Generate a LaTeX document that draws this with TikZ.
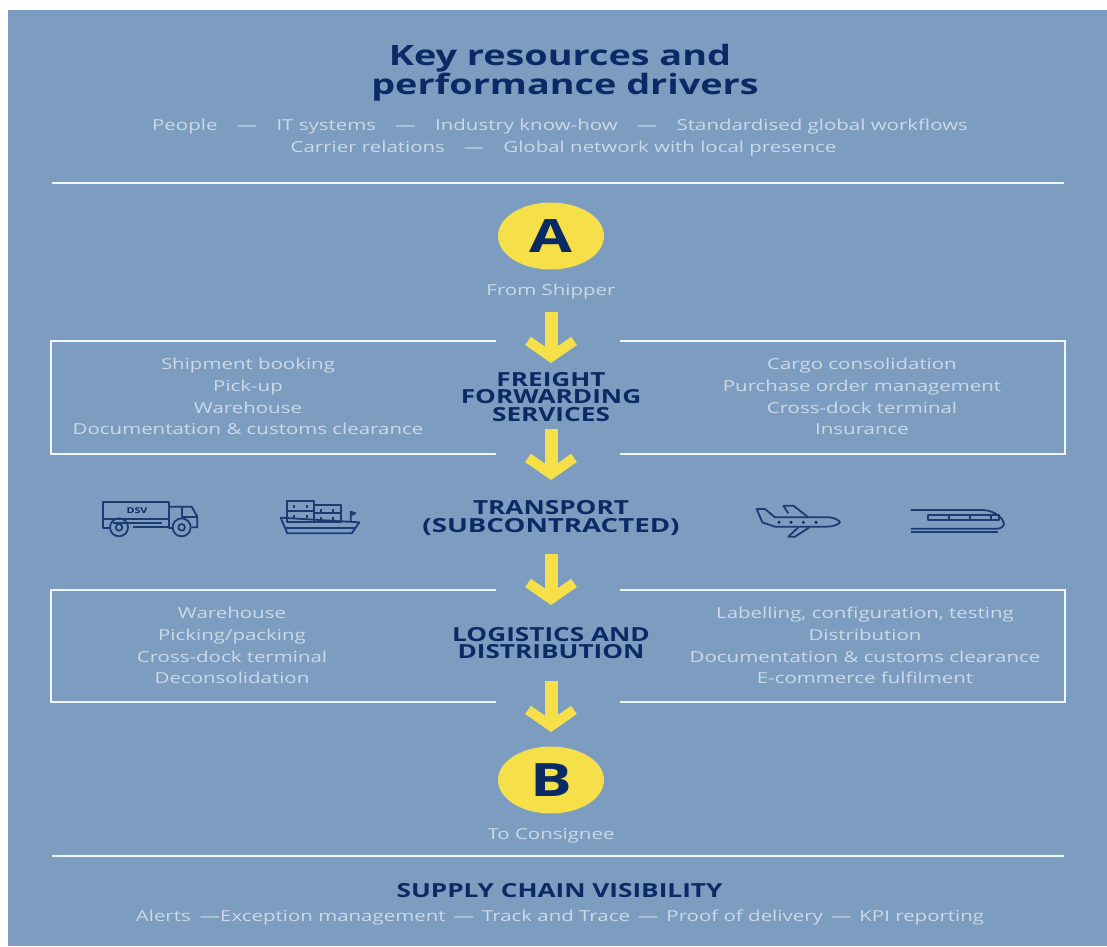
\documentclass[tikz,border=0pt]{standalone}
\usepackage{fontspec}
\setmainfont[FakeStretch=1.35]{Open Sans}
\usetikzlibrary{arrows.meta,shapes.geometric}
\definecolor{bgblue}{HTML}{7C9DC0}
\definecolor{navy}{HTML}{0A2A66}
\definecolor{sun}{HTML}{F5E04A}
\definecolor{pale}{HTML}{CBD9E8}
\newcommand{\gapdash}[1]{\hspace{#1}—\hspace{#1}}
\tikzset{
  body/.style={text=pale,font=\fontsize{15.15}{21.7}\selectfont,align=center,inner sep=0pt},
  head/.style={text=navy,font=\fontsize{19.4}{17.7}\bfseries\selectfont,align=center,inner sep=0pt},
  rule/.style={draw=white!90!bgblue,line width=1.5pt},
  disc/.style={ellipse,fill=sun,minimum width=106pt,minimum height=67pt,inner sep=0pt,text=navy,font=\fontsize{46}{46}\bfseries\selectfont},
  flow/.style={draw=sun,line width=13pt,-{Straight Barb[length=16pt,width=46pt,line width=10pt]}},
  icon/.style={draw=navy!85!bgblue,line width=1.8pt,line join=round,xscale=1/3,yscale=1/3},
}
\begin{document}
\begin{tikzpicture}[x=1pt,y=-1pt]
\useasboundingbox (0,0) rectangle (1107,946);
\fill[white] (0,0) rectangle (1107,946);
\fill[bgblue] (8,10) rectangle (1107,946);
\node[text=navy,font=\fontsize{28}{28.5}\bfseries\selectfont,align=center,inner sep=0pt] (title) at (560,72.5) {Key resources and\\\hspace*{10pt}performance drivers};
\node[body] (res1) at (560,127) {People\gapdash{19.3pt}IT systems\gapdash{19.3pt}Industry know-how\gapdash{19.3pt}Standardised global workflows};
\node[body] (res2) at (563.5,149) {Carrier relations\gapdash{19pt}Global network with local presence};
\coordinate (r1l) at (52,183); \coordinate (r1r) at (1064,183);
\draw[rule] (r1l) -- (r1r);
\node[disc] (A) at (551,236) {A};
\node[body] (ship) at (551,291.5) {From Shipper};
% boxes
\coordinate (b1a) at (496,341); \coordinate (b1b) at (51,341); \coordinate (b1c) at (51,454); \coordinate (b1d) at (496,454);
\coordinate (b2a) at (620,341); \coordinate (b2b) at (1065,341); \coordinate (b2c) at (1065,454); \coordinate (b2d) at (620,454);
\draw[rule] (b1a) -- (b1b) -- (b1c) -- (b1d);
\draw[rule] (b2a) -- (b2b) -- (b2c) -- (b2d);
\coordinate (b3a) at (496,590); \coordinate (b3b) at (51,590); \coordinate (b3c) at (51,702); \coordinate (b3d) at (496,702);
\coordinate (b4a) at (620,590); \coordinate (b4b) at (1065,590); \coordinate (b4c) at (1065,702); \coordinate (b4d) at (620,702);
\draw[rule] (b3a) -- (b3b) -- (b3c) -- (b3d);
\draw[rule] (b4a) -- (b4b) -- (b4c) -- (b4d);
\node[head] (ffs) at (551,397) {FREIGHT\\FORWARDING\\SERVICES};
\node[body] (l1) at (248,396.5) {Shipment booking\\Pick-up\\Warehouse\\Documentation \& customs clearance};
\node[body] (r1) at (862,396.5) {Cargo consolidation\\Purchase order management\\Cross-dock terminal\\Insurance};
\node[head] (trans) at (551,518) {TRANSPORT\\\scalebox{1.055}[1]{(SUBCONTRACTED)}};
\node[head] (log) at (551,643) {LOGISTICS AND\\DISTRIBUTION};
\node[body] (l2) at (232,645.5) {Warehouse\\Picking/packing\\Cross-dock terminal\\Deconsolidation};
\node[body] (r2) at (865,645.5) {Labelling, configuration, testing\\Distribution\\Documentation \& customs clearance\\E-commerce fulfilment};
\node[disc] (B) at (551,780) {B};
\node[body] (cons) at (551,835.5) {To Consignee};
\coordinate (r2l) at (52,856); \coordinate (r2r) at (1064,856);
\draw[rule] (r2l) -- (r2r);
\node[head] (scv) at (559.5,891) {SUPPLY CHAIN VISIBILITY};
\node[body] (scvl) at (560,918) {Alerts\hspace{9pt}—Exception management\gapdash{8pt}Track and Trace\gapdash{8pt}Proof of delivery\gapdash{8pt}KPI reporting};
% flow arrows
\coordinate (f1a) at (551,312); \coordinate (f1b) at (551,363);
\coordinate (f2a) at (551,429); \coordinate (f2b) at (551,480);
\coordinate (f3a) at (551,554); \coordinate (f3b) at (551,605);
\coordinate (f4a) at (551,681); \coordinate (f4b) at (551,732);
\draw[flow] (f1a) -- (f1b);
\draw[flow] (f2a) -- (f2b);
\draw[flow] (f3a) -- (f3b);
\draw[flow] (f4a) -- (f4b);
% truck
\begin{scope}[shift={(80,480)},icon]
\draw (88,145) -- (70,145) -- (70,65) -- (268,65) -- (268,145) -- (278,145);
\draw (268,80) -- (335,80) -- (352,110) -- (352,142) -- (335,142);
\draw (305,82) -- (305,110) -- (350,110);
\draw (70,118) -- (268,118);
\draw (100,128) -- (245,128);
\draw (160,142) -- (268,142);
\draw (117,142) circle (27);
\draw (117,142) circle (10);
\draw (305,142) circle (27);
\draw (305,142) circle (10);
\end{scope}
\node[text=navy,font=\fontsize{8}{8}\bfseries\selectfont,inner sep=0pt] (dsv) at (137,511) {DSV};
% ship
\begin{scope}[shift={(80,480)},icon]
\draw (602,113) -- (838,127) -- (815,160) -- (622,160) -- cycle;
\draw (615,145) -- (825,145);
\draw (622,62) rectangle (702,125);
\draw (622,92) -- (702,92);
\draw (702,75) rectangle (782,125);
\draw (702,100) -- (782,100);
\draw (642,75) -- (642,83) (680,75) -- (680,83) (642,105) -- (642,113) (680,105) -- (680,113);
\draw (722,87) -- (722,95) (760,87) -- (760,95) (722,112) -- (722,120) (760,112) -- (760,120);
\draw (812,125) -- (812,95) -- (826,100) -- (812,106);
\end{scope}
% plane
\begin{scope}[shift={(730,480)},icon]
\draw (80,87) -- (105,87) -- (135,112) -- (300,112) .. controls (318,115) and (328,122) .. (330,127) .. controls (325,135) and (305,140) .. (290,140) -- (135,140) -- (97,127) -- cycle;
\draw (175,100) -- (160,77) -- (190,77) -- (235,112);
\draw (205,142) -- (175,170) -- (195,170) -- (238,142);
\foreach \px in {147,183,220,258} \fill[navy] (\px,127) circle (5);
\end{scope}
% train
\begin{scope}[shift={(730,480)},icon]
\draw (542,90) -- (760,90) .. controls (795,92) and (820,115) .. (822,132) .. controls (820,142) and (810,146) .. (800,146) -- (542,146);
\draw (542,157) -- (805,157);
\draw (594,104) rectangle (808,120);
\draw (657,104) -- (657,120) (720,104) -- (720,120) (782,104) -- (782,120);
\end{scope}
\end{tikzpicture}
\end{document}
